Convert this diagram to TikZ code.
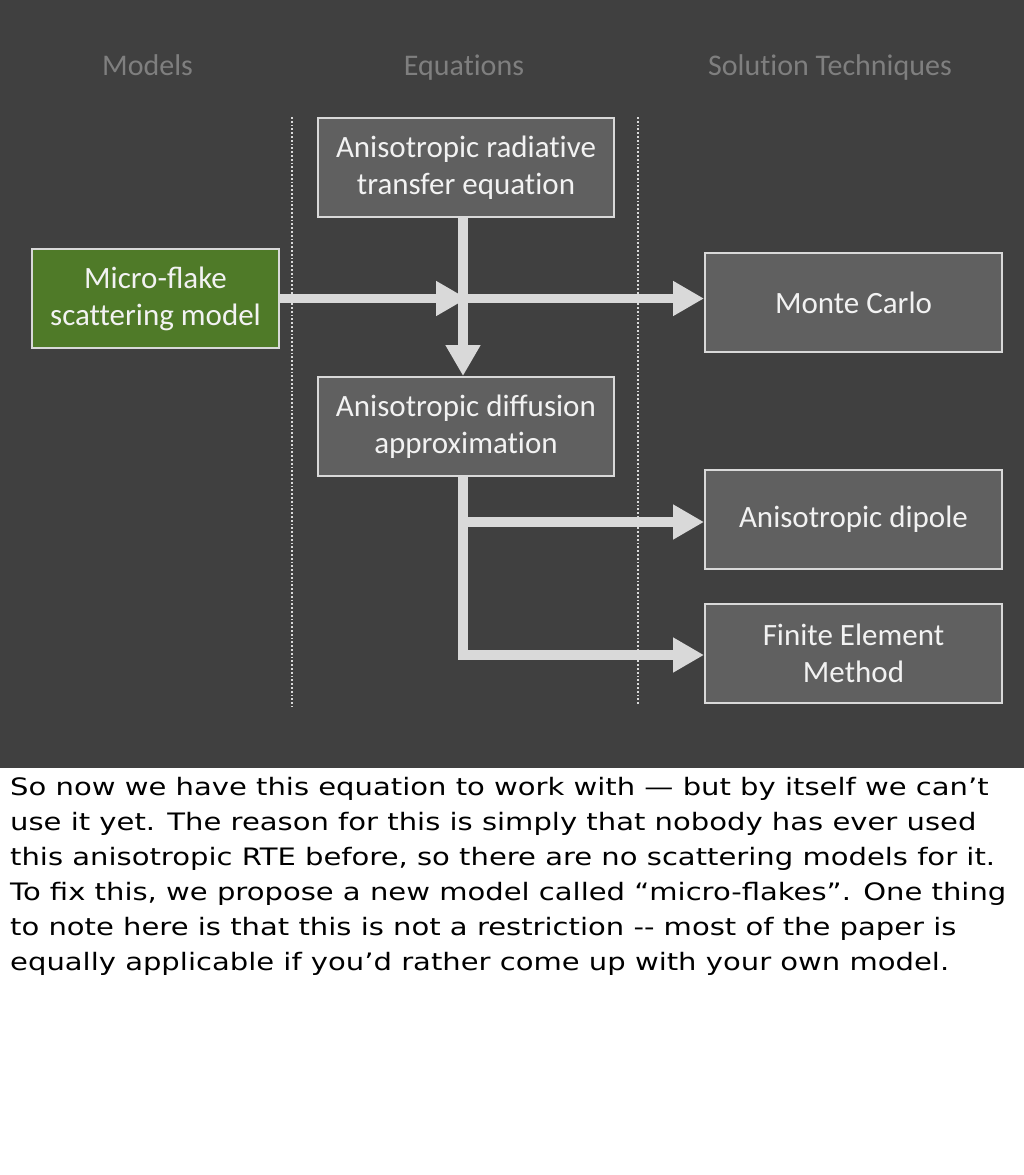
\documentclass[tikz,border=0pt]{standalone}
\usepackage{fontspec}
\setmainfont{Carlito}[Ligatures=NoCommon]
\newfontfamily\notesfont{DejaVu Sans}[FakeStretch=1.21]
\usetikzlibrary{arrows.meta}
\definecolor{slidebg}{HTML}{404040}
\definecolor{boxfill}{HTML}{606060}
\definecolor{boxline}{HTML}{D9D9D9}
\definecolor{arrowc}{HTML}{D9D9D9}
\definecolor{headc}{HTML}{7F7F7F}
\definecolor{greenfill}{HTML}{4F7A28}
\definecolor{boxtext}{HTML}{F2F2F2}
\newcommand{\ligon}[1]{{\addfontfeature{Ligatures=Common}#1}}
\tikzset{
  box/.style={draw=boxline, line width=2pt, fill=boxfill, minimum width=296pt, minimum height=99pt,
    align=center, text=boxtext, inner sep=0pt, font=\fontsize{31}{37}\selectfont},
  greenbox/.style={box, fill=greenfill, minimum width=247pt},
  header/.style={text=headc, font=\fontsize{30}{37}\selectfont, anchor=base, inner sep=0pt},
  flow/.style={draw=arrowc, line width=9.5pt},
  flowarrow/.style={flow, -{Triangle[length=31pt,width=33pt]}},
  divider/.style={draw=white!85!black, line width=1.8pt, dotted},
}
\begin{document}
\begin{tikzpicture}[x=1pt,y=-1pt]
\useasboundingbox (0,0) rectangle (1024,1175);
\fill[white] (0,0) rectangle (1024,1175);
\fill[slidebg] (0,0) rectangle (1024,768);

\node[header] (hmod) at (147.5,75) {Models};
\node[header] (heq) at (464,75) {Equations};
\node[header] (hsol) at (830,75) {Solution Techniques};

\coordinate (d1t) at (292,117);
\coordinate (d1b) at (292,707);
\coordinate (d2t) at (638,117);
\coordinate (d2b) at (638,705);
\draw[divider] (d1t) -- (d1b);
\draw[divider] (d2t) -- (d2b);

\node[box] (rte) at (466,167.5) {Anisotropic radiative\\transfer equation};
\node[greenbox] (flake) at (155.5,298.5) {Micro-\ligon{fl}ake\\scattering model};
\node[box] (diff) at (466,426.5) {Anisotropic di\ligon{ff}usion\\approximation};
\node[box, minimum width=297pt] (mc) at (853.5,302.5) {Monte Carlo};
\node[box, minimum width=297pt] (dip) at (853.5,519.5) {Anisotropic dipole};
\node[box, minimum width=297pt] (fem) at (853.5,653.5) {Finite Element\\Method};

\coordinate (v) at (463,0);
\coordinate (j) at (467,298.5);
\coordinate (jh) at (463,298.5);
\coordinate (row2) at (0,522);
\coordinate (row3) at (0,655);

\draw[flowarrow] (rte.south -| v) -- (diff.north -| v);
\draw[flowarrow] (flake.east |- j) -- (j);
\draw[flowarrow] (jh) -- (mc.west |- jh);
\draw[flowarrow] (diff.south -| v) |- (fem.west |- row3);
\draw[flowarrow] (v |- row2) -- (dip.west |- row2);

\node[anchor=base west, align=left, inner sep=0pt, font=\notesfont\fontsize{24}{35}\selectfont] (notes) at (10,970)
{So now we have this equation to work with — but by itself we can’t\\
use it yet. The reason for this is simply that nobody has ever used\\
this anisotropic RTE before, so there are no scattering models for it.\\
To fix this, we propose a new model called “micro-flakes”. One thing\\
to note here is that this is not a restriction -{}- most of the paper is\\
equally applicable if you’d rather come up with your own model.};
\end{tikzpicture}
\end{document}
